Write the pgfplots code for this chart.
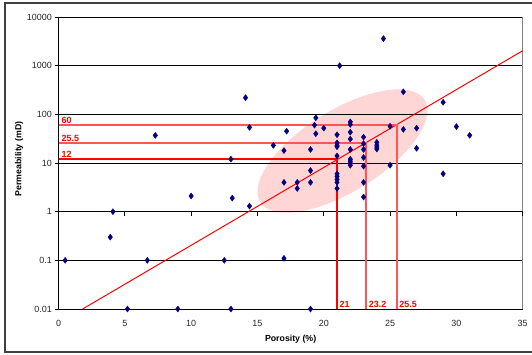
\documentclass[border=0pt]{standalone}
\usepackage{pgfplots}
\pgfplotsset{compat=1.18}
\usepackage{fontspec}
\setmainfont{Liberation Sans}
\definecolor{navy}{RGB}{0,0,128}
\definecolor{ellpink}{RGB}{255,214,214}
\definecolor{lred}{RGB}{255,85,85}
\definecolor{framegray}{RGB}{64,64,64}
\begin{document}
\begin{tikzpicture}[x=1bp,y=1bp]
\useasboundingbox (0,0) rectangle (532,354);
% outer frame
\draw[framegray, line width=1.6bp] (545,2) -- (5,2) -- (5,351) -- (545,351);
% confidence ellipse
\fill[ellpink, rotate around={31.8:(342.5,203)}] (342.5,203) ellipse [x radius=96.8, y radius=40.8];
\begin{axis}[
  at={(58.5bp,45bp)}, anchor=south west, scale only axis,
  width=464.2bp, height=292bp,
  xmin=0, xmax=35, ymode=log, ymin=0.01, ymax=10000,
  axis line style={draw=black, line width=0.8bp},
  xtick={0,5,...,35}, xticklabels={0,5,10,15,20,25,30,35},
  ytick={0.01,0.1,1,10,100,1000,10000},
  yticklabels={0.01,0.1,1,10,100,1000,10000},
  yminorticks=false, xminorticks=false,
  ymajorgrids, grid style={black, line width=0.7bp},
  tick align=outside, major tick length=4bp,
  xtick pos=bottom, ytick pos=left,
  xtick style={draw=none},
  ytick style={black, line width=0.7bp},
  /pgf/number format/assume math mode=true,
  tick label style={font=\fontsize{9}{10}\selectfont, text=black!85},
  xticklabel style={anchor=base, inner sep=0pt, yshift=-13bp},
  yticklabel style={anchor=east, inner sep=0pt, xshift=-2.5bp},
  clip=false,
]
% right border of the plot area
\draw[gray, line width=1.2bp] (axis cs:35,0.01) -- (axis cs:35,10000);
% x axis crossing at 1
\draw[black, line width=0.9bp] (axis cs:0,1) -- (axis cs:35,1);
\draw[black, line width=0.8bp] (axis cs:5,1) -- (axis cs:5,0.82) (axis cs:10,1) -- (axis cs:10,0.82)
  (axis cs:15,1) -- (axis cs:15,0.82) (axis cs:20,1) -- (axis cs:20,0.82)
  (axis cs:25,1) -- (axis cs:25,0.82) (axis cs:30,1) -- (axis cs:30,0.82)
  (axis cs:35,1) -- (axis cs:35,0.82);
% trend line
\addplot[red, line width=1bp] coordinates {(1.82,0.01) (35,2030)};
% reading lines
\addplot[lred, line width=1.6bp] coordinates {(0,60) (25.5,60) (25.5,0.01)};
\addplot[lred, line width=1.6bp] coordinates {(0,25.5) (23.2,25.5) (23.2,0.01)};
\addplot[red, line width=1.5bp] coordinates {(0,12) (21,12) (21,0.01)};
% data
\addplot[only marks, mark=diamond*, mark size=3bp, color=navy] coordinates {
(0.5,0.1) (3.9,0.3) (4.1,1) (5.2,0.01) (6.7,0.1) (7.3,37) (9.0,0.01) (10,2.1)
(12.5,0.1) (13,12) (13,0.01) (13.1,1.9) (14.1,220) (14.4,54) (14.4,1.3)
(16.2,23) (17,18) (17,4) (17,0.11) (17.2,45) (18,4) (18,3)
(19,19) (19,7) (19,4) (19,0.01) (19.3,60) (19.4,85) (19.4,40) (20,52)
(21,38) (21,26) (21,23) (21,21.6) (21,14) (21,6) (21,5.3) (21,4.6) (21,4) (21,3)
(21.2,1000)
(22,70) (22,62) (22,43) (22,31) (22,19) (22,12) (22,10.9) (22,9.9) (22,9)
(23,34) (23,25) (23,19) (23,13) (23,8.6) (23,4) (23,2)
(24,26.6) (24,23.3) (24,21.2) (24,19.4)
(24.5,3600) (25,57) (25,9) (26,290) (26,49) (27,52) (27,20)
(29,177) (29,6) (30,56) (31,37)
};
% value labels
\node[anchor=south west, text=red, font=\fontsize{9}{10}\selectfont\bfseries, inner sep=1bp, xshift=2bp] at (axis cs:0,60) {60};
\node[anchor=south west, text=red, font=\fontsize{9}{10}\selectfont\bfseries, inner sep=1bp, xshift=2bp] at (axis cs:0,25.5) {25.5};
\node[anchor=south west, text=red, font=\fontsize{9}{10}\selectfont\bfseries, inner sep=1bp, xshift=2bp] at (axis cs:0,12) {12};
\node[anchor=south west, text=red, font=\fontsize{9}{10}\selectfont\bfseries, inner sep=1bp, xshift=1.5bp, yshift=0.5bp] at (axis cs:21,0.01) {21};
\node[anchor=south west, text=red, font=\fontsize{9}{10}\selectfont\bfseries, inner sep=1bp, xshift=1.5bp, yshift=0.5bp] at (axis cs:23.2,0.01) {23.2};
\node[anchor=south west, text=red, font=\fontsize{9}{10}\selectfont\bfseries, inner sep=1bp, xshift=1.5bp, yshift=0.5bp] at (axis cs:25.5,0.01) {25.5};
\end{axis}
% axis titles
\node[font=\fontsize{8.8}{10}\selectfont\bfseries] at (290.6,14.7) {Porosity (\%)};
\node[rotate=90, font=\fontsize{8.8}{10}\selectfont\bfseries] at (19,195) {Permeability (mD)};
\end{tikzpicture}
\end{document}
